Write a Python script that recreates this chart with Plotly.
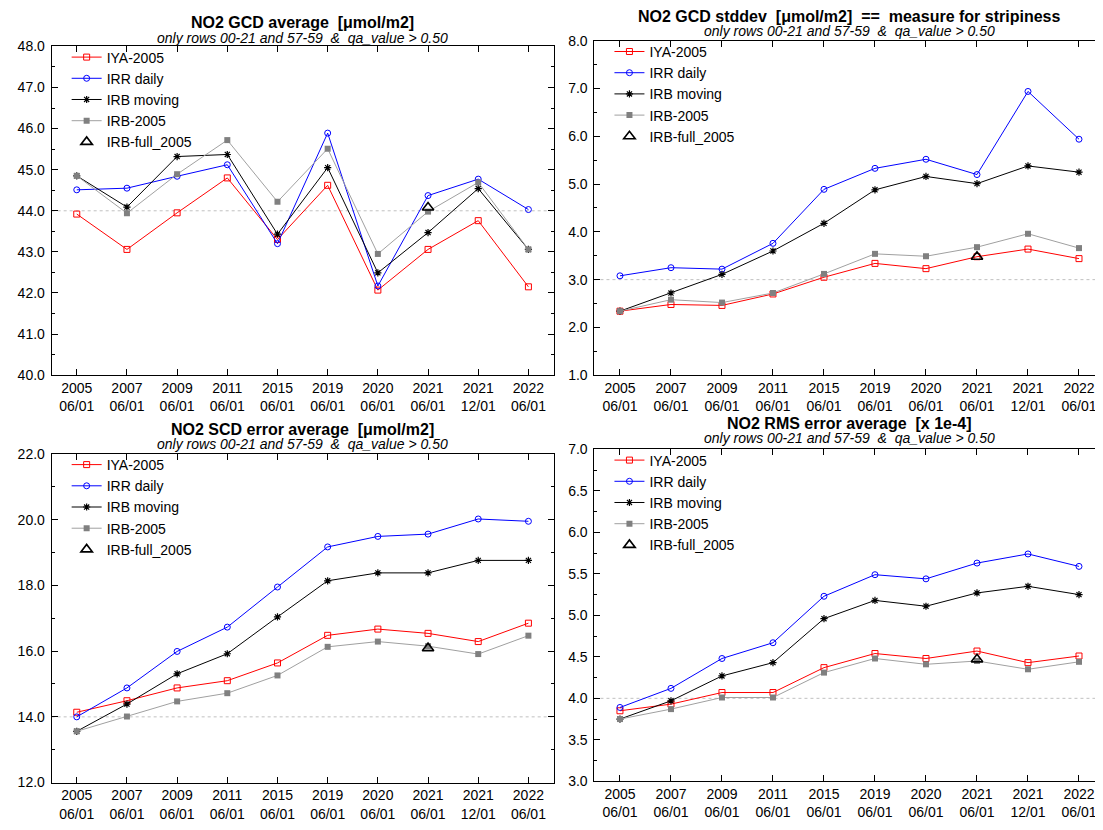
import plotly.graph_objects as go

# ---------------- data ----------------
years = ["2005", "2007", "2009", "2011", "2015", "2019", "2020", "2021", "2021", "2022"]
days = ["06/01", "06/01", "06/01", "06/01", "06/01", "06/01", "06/01", "06/01", "12/01", "06/01"]

series_names = ["IYA-2005", "IRR daily", "IRB moving", "IRB-2005", "IRB-full_2005"]

# Panel 1: NO2 GCD average
gcd_avg_iya = [43.92, 43.06, 43.95, 44.80, 43.30, 44.62, 42.07, 43.06, 43.76, 42.15]
gcd_avg_irr = [44.51, 44.55, 44.84, 45.12, 43.20, 45.89, 42.17, 44.37, 44.77, 44.03]
gcd_avg_irb_mov = [44.85, 44.09, 45.32, 45.37, 43.43, 45.05, 42.49, 43.47, 44.54, 43.06]
gcd_avg_irb05 = [44.85, 43.94, 44.89, 45.72, 44.22, 45.51, 42.95, 43.98, 44.69, 43.06]
gcd_avg_full = [None, None, None, None, None, None, None, 44.08, None, None]

# Panel 2: NO2 GCD stddev
gcd_std_iya = [2.34, 2.48, 2.46, 2.70, 3.05, 3.34, 3.23, 3.48, 3.64, 3.44]
gcd_std_irr = [3.08, 3.25, 3.22, 3.76, 4.89, 5.33, 5.52, 5.20, 6.94, 5.94]
gcd_std_irb_mov = [2.34, 2.72, 3.11, 3.60, 4.18, 4.88, 5.16, 5.01, 5.38, 5.25]
gcd_std_irb05 = [2.34, 2.58, 2.52, 2.72, 3.12, 3.54, 3.49, 3.68, 3.96, 3.66]
gcd_std_full = [None, None, None, None, None, None, None, 3.48, None, None]

# Panel 3: NO2 SCD error average
scd_err_iya = [14.14, 14.49, 14.88, 15.10, 15.64, 16.48, 16.67, 16.54, 16.29, 16.85]
scd_err_irr = [14.00, 14.88, 15.99, 16.73, 17.95, 19.17, 19.49, 19.56, 20.02, 19.95]
scd_err_irb_mov = [13.56, 14.39, 15.31, 15.92, 17.04, 18.14, 18.38, 18.38, 18.76, 18.76]
scd_err_irb05 = [13.56, 14.01, 14.47, 14.72, 15.26, 16.13, 16.29, 16.15, 15.91, 16.47]
scd_err_full = [None, None, None, None, None, None, None, 16.09, None, None]

# Panel 4: NO2 RMS error average [x 1e-4]
rms_err_iya = [3.85, 3.93, 4.07, 4.07, 4.37, 4.54, 4.48, 4.57, 4.43, 4.51]
rms_err_irr = [3.89, 4.12, 4.48, 4.67, 5.23, 5.49, 5.44, 5.63, 5.74, 5.59]
rms_err_irb_mov = [3.75, 3.97, 4.27, 4.43, 4.96, 5.18, 5.11, 5.27, 5.35, 5.25]
rms_err_irb05 = [3.75, 3.87, 4.01, 4.01, 4.31, 4.48, 4.41, 4.45, 4.35, 4.44]
rms_err_full = [None, None, None, None, None, None, None, 4.47, None, None]

titles = [
    "NO2 GCD average\u00a0\u00a0[\u03bcmol/m2]",
    "NO2 GCD stddev\u00a0\u00a0[\u03bcmol/m2]\u00a0\u00a0==\u00a0\u00a0measure for stripiness",
    "NO2 SCD error average\u00a0\u00a0[\u03bcmol/m2]",
    "NO2 RMS error average\u00a0\u00a0[x 1e-4]",
]
subtitle = "only rows 00-21 and 57-59\u00a0\u00a0&\u00a0\u00a0qa_value > 0.50"
ref_lines = [44.0, 3.0, 14.0, 4.0]
y_ranges = [[40, 48], [1, 8], [12, 22], [3, 7]]
y_dticks = [1.0, 1.0, 2.0, 0.5]

panels = [
    [gcd_avg_iya, gcd_avg_irr, gcd_avg_irb_mov, gcd_avg_irb05, gcd_avg_full],
    [gcd_std_iya, gcd_std_irr, gcd_std_irb_mov, gcd_std_irb05, gcd_std_full],
    [scd_err_iya, scd_err_irr, scd_err_irb_mov, scd_err_irb05, scd_err_full],
    [rms_err_iya, rms_err_irr, rms_err_irb_mov, rms_err_irb05, rms_err_full],
]

# ---------------- layout geometry (window pixels) ----------------
WIN_W, WIN_H = 1103, 830
OFF = 8  # default body margin of the html page
W, H = WIN_W - OFF, WIN_H - OFF
FONT = "Liberation Sans, Arial, sans-serif"


def px(x):
    return (x - OFF) / W


def py(y):
    return 1 - (y - OFF) / H


# left, right, top, bottom in window pixels for each panel
boxes = [
    (51.7, 554.0, 39.0, 374.3),
    (595.0, 1105.5, 33.3, 374.3),
    (51.7, 554.0, 454.6, 789.8),
    (595.0, 1105.5, 450.0, 788.5),
]
title_pos = [(303, 15, 30), (850, 9, 23.5), (303, 429.5, 444.2), (850, 423.3, 438.3)]

styles = [
    dict(mode="lines+markers", line=dict(color="#ff0000", width=1),
         marker=dict(symbol="square-open", size=6, color="#ff0000", line=dict(width=1, color="#ff0000"))),
    dict(mode="lines+markers", line=dict(color="#0000ff", width=1),
         marker=dict(symbol="circle-open", size=6, color="#0000ff", line=dict(width=1, color="#0000ff"))),
    dict(mode="lines+markers", line=dict(color="#000000", width=1),
         marker=dict(symbol="asterisk-open", size=6, color="#000000", line=dict(width=1.2, color="#000000"))),
    dict(mode="lines+markers", line=dict(color="#a0a0a0", width=1),
         marker=dict(symbol="square", size=6, color="#808080")),
    dict(mode="markers",
         marker=dict(symbol="triangle-up-open", size=10, color="#000000", line=dict(width=1.6, color="#000000"))),
]

fig = go.Figure()
x_idx = list(range(len(years)))
tick_text = [f"{y}<br>{d}" for y, d in zip(years, days)]

layout = dict(
    width=W, height=H,
    margin=dict(l=0, r=0, t=0, b=0),
    paper_bgcolor="white", plot_bgcolor="white",
    font=dict(family=FONT, size=14, color="black"),
    annotations=[], shapes=[],
)

for p, (series, box) in enumerate(zip(panels, boxes)):
    n = "" if p == 0 else str(p + 1)
    L, R, T, B = box
    dom_r = min(R, WIN_W)
    x_end = -0.5 + 10 * (dom_r - L) / (R - L)
    legname = "legend" if p == 0 else f"legend{p + 1}"
    for i, (name, vals) in enumerate(zip(series_names, series)):
        fig.add_trace(go.Scatter(
            x=x_idx, y=vals, name=name, xaxis=f"x{n}", yaxis=f"y{n}",
            legend=legname, showlegend=True, hoverinfo="skip", cliponaxis=False,
            **styles[i]))
    layout[f"xaxis{n}"] = dict(
        domain=[px(L), min(px(dom_r), 1.0)], range=[-0.5, x_end], anchor=f"y{n}",
        tickvals=x_idx, ticktext=tick_text,
        showline=True, linecolor="black", linewidth=1, mirror="allticks",
        ticks="inside", ticklen=6, tickcolor="black", showgrid=False, zeroline=False,
        tickfont=dict(family=FONT, size=14, color="black"))
    layout[f"yaxis{n}"] = dict(
        domain=[py(B), py(T)], range=y_ranges[p], anchor=f"x{n}",
        dtick=y_dticks[p], tick0=y_ranges[p][0], tickformat=".1f",
        showline=True, linecolor="black", linewidth=1, mirror="allticks",
        ticks="inside", ticklen=6, tickcolor="black", showgrid=False, zeroline=False,
        ticklabelstandoff=3,
        minor=dict(dtick=y_dticks[p] / 2, ticks="inside", ticklen=3, tickcolor="black", showgrid=False),
        tickfont=dict(family=FONT, size=14, color="black"))
    layout[legname] = dict(
        x=px(L + 15), y=py(T - 5), xanchor="left", yanchor="top",
        bgcolor="rgba(0,0,0,0)", font=dict(family=FONT, size=14, color="black"),
        tracegroupgap=0, itemwidth=30)
    layout["shapes"].append(dict(
        type="line", xref=f"x{n} domain", yref=f"y{n}", x0=0, x1=1,
        y0=ref_lines[p], y1=ref_lines[p], layer="below",
        line=dict(color="#c0c0c0", width=1, dash="dot")))
    cx, ty, sy = title_pos[p]
    layout["annotations"].append(dict(
        text=f"<b>{titles[p]}</b>", x=px(cx), y=py(ty), xref="paper", yref="paper",
        xanchor="center", yanchor="middle", showarrow=False,
        font=dict(family=FONT, size=16, color="black")))
    layout["annotations"].append(dict(
        text=f"<i>{subtitle}</i>", x=px(cx), y=py(sy), xref="paper", yref="paper",
        xanchor="center", yanchor="middle", showarrow=False,
        font=dict(family=FONT, size=14, color="black")))

fig.update_layout(**layout)
fig.write_html("out.html")
